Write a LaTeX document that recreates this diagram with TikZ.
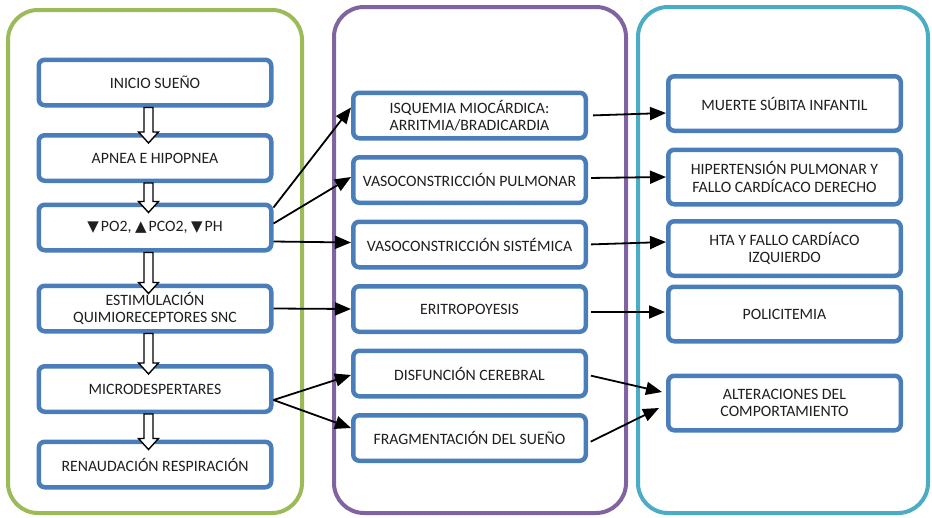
\documentclass[tikz,border=0pt]{standalone}
\usepackage{fontspec}
\setmainfont{Carlito}
\newfontfamily\symfont{DejaVu Sans}
\usepackage{xcolor}
\usetikzlibrary{calc,arrows.meta}
\definecolor{boxblue}{HTML}{4A7EBB}
\definecolor{frgreen}{HTML}{9BBB59}
\definecolor{frpurple}{HTML}{8064A2}
\definecolor{frcyan}{HTML}{4BACC6}
\newcommand{\dn}{{\symfont\fontsize{15}{17}\selectfont▼}\kern2pt}
\newcommand{\up}{{\symfont\fontsize{15}{17}\selectfont▲}\kern2pt}
% hollow arrow between two boxes of the first column
\newcommand{\bigarrow}[2]{%
  \draw[hollow] ($(#1.south)+(-11,0)$) -- ($(#2.north)+(-11,-1)$)
    -- ($(#2.north)+(-16.5,-1)$) -- ($(#2.north)+(-6.5,10)$)
    -- ($(#2.north)+(3.5,-1)$) -- ($(#2.north)+(-2,-1)$)
    -- ($(#1.south)+(-2,0)$) -- cycle;}

\begin{document}
\begin{tikzpicture}[x=1pt, y=-1pt,
    frame/.style={line width=4pt, rounded corners=30pt},
    stepbox/.style={draw=boxblue, line width=4.5pt, rounded corners=6pt, fill=white,
      minimum width=232.5pt, minimum height=45.5pt, align=center, inner sep=2pt,
      text=black!88, font=\fontsize{15.8}{17.5}\selectfont},
    tallbox/.style={stepbox, minimum height=54.5pt},
    link/.style={line width=1.8pt, -{Triangle[length=16pt, width=13pt]}},
    outlink/.style={link, shorten <=3pt},
    hollow/.style={line width=1.4pt, fill=white}]
\useasboundingbox (0,0) rectangle (932,517);
%
% columns
\draw[frame, frgreen]  (8,10) rectangle (302,513);
\draw[frame, frpurple] (334,7) rectangle (626,513);
\draw[frame, frcyan]   (638,7) rectangle (928,513);
%
% first column
\node[stepbox] (inicio) at (155,82.5)  {INICIO SUEÑO};
\node[stepbox] (apnea)  at (155,158)   {APNEA E HIPOPNEA};
\node[stepbox] (gases)  at (155,227.5) {\dn PO2, \up PCO2, \dn PH};
\node[stepbox] (estim)  at (155,308.5) {ESTIMULACIÓN\\QUIMIORECEPTORES SNC};
\node[stepbox] (micro)  at (155,389)   {MICRODESPERTARES};
\node[stepbox] (renau)  at (155,464.5) {RENAUDACIÓN RESPIRACIÓN};
%
% second column
\node[stepbox] (isq)  at (469.5,115.5) {ISQUEMIA MIOCÁRDICA:\\ARRITMIA/BRADICARDIA};
\node[stepbox] (pulm) at (469.5,180)   {VASOCONSTRICCIÓN PULMONAR};
\node[stepbox] (sist) at (469.5,244.5) {VASOCONSTRICCIÓN SISTÉMICA};
\node[stepbox] (erit) at (469.5,309)   {ERITROPOYESIS};
\node[stepbox] (disf) at (469.5,373.5) {DISFUNCIÓN CEREBRAL};
\node[stepbox] (frag) at (469.5,438)   {FRAGMENTACIÓN DEL SUEÑO};
%
% third column
\node[tallbox] (muerte) at (784.5,103.5) {MUERTE SÚBITA INFANTIL};
\node[tallbox] (hiper)  at (784.5,177)   {HIPERTENSIÓN PULMONAR  Y\\FALLO CARDÍCACO  DERECHO};
\node[tallbox] (hta)    at (784.5,248.5) {HTA Y FALLO CARDÍACO\\IZQUIERDO};
\node[tallbox] (poli)   at (784.5,314)   {POLICITEMIA};
\node[tallbox] (alter)  at (784.5,403)   {ALTERACIONES DEL\\COMPORTAMIENTO};
%
\bigarrow{inicio}{apnea}
\bigarrow{apnea}{gases}
\bigarrow{gases}{estim}
\bigarrow{estim}{micro}
\bigarrow{micro}{renau}
%
\draw[link] ($(gases.east)+(0,-20)$) -- ($(isq.west)+(0,-8)$);
\draw[link] ($(gases.east)+(0,-4)$)  -- ($(pulm.west)+(0,-3)$);
\draw[link] ($(gases.east)+(0,14)$)  -- ($(sist.west)+(0,-2)$);
\draw[link] (estim.east) -- (erit.west);
\draw[link] ($(micro.east)+(0,11)$) -- ($(disf.west)+(0,1.5)$);
\draw[link] ($(micro.east)+(0,11)$) -- ($(frag.west)+(0,-10)$);
%
\draw[outlink] ($(isq.east)+(2,0)$)    -- ($(muerte.west)+(0,9.5)$);
\draw[outlink] ($(pulm.east)+(0,-2)$)  -- (hiper.west);
\draw[outlink] (sist.east)             -- ($(hta.west)+(0,-6.5)$);
\draw[outlink] ($(erit.east)+(0,3)$)   -- ($(poli.west)+(-1,-2)$);
\draw[outlink] ($(disf.east)+(0,1.5)$) -- ($(alter.west)+(-4,-11)$);
\draw[outlink] ($(frag.east)+(0,5)$)   -- ($(alter.west)+(-7,5)$);
%
\end{tikzpicture}
\end{document}
